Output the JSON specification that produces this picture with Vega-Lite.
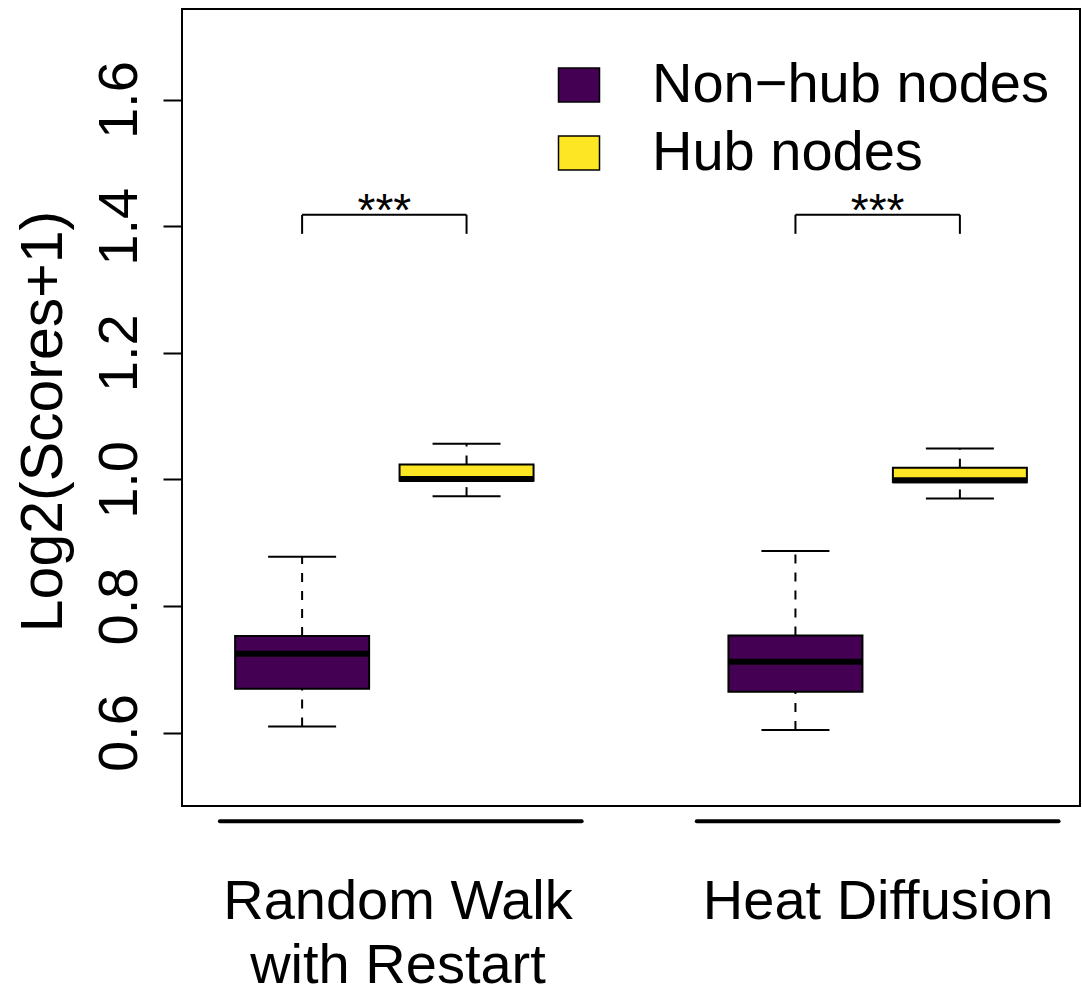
{
  "$schema": "https://vega.github.io/schema/vega-lite/v6.json",
  "width": 898,
  "height": 797,
  "autosize": {"type": "none"},
  "padding": {"left": 182, "top": 9, "right": 2, "bottom": 181},
  "background": "white",
  "config": {
    "font": "Liberation Sans",
    "view": {"stroke": "black", "strokeWidth": 2}
  },
  "datasets": {
    "boxes": [
      {"method": "Random Walk with Restart", "group": "Non−hub nodes", "pos": 1, "lo": 0.6095, "q1": 0.6695, "med": 0.7247, "q3": 0.7525, "hi": 0.878},
      {"method": "Random Walk with Restart", "group": "Hub nodes", "pos": 2, "lo": 0.9736, "q1": 0.998, "med": 1.0005, "q3": 1.0237, "hi": 1.0563},
      {"method": "Heat Diffusion", "group": "Non−hub nodes", "pos": 4, "lo": 0.6041, "q1": 0.6647, "med": 0.7121, "q3": 0.7536, "hi": 0.8868},
      {"method": "Heat Diffusion", "group": "Hub nodes", "pos": 5, "lo": 0.97, "q1": 0.9957, "med": 0.9989, "q3": 1.0184, "hi": 1.0489}
    ],
    "sig": [
      {"method": "Random Walk with Restart", "x1": 1, "x2": 2, "xm": 1.5, "top": 1.418, "bottom": 1.388, "label": "***"},
      {"method": "Heat Diffusion", "x1": 4, "x2": 5, "xm": 4.5, "top": 1.418, "bottom": 1.388, "label": "***"}
    ],
    "groups": [
      {"method": "Random Walk with Restart", "start": 0.5, "end": 2.7},
      {"method": "Heat Diffusion", "start": 3.4, "end": 5.6}
    ]
  },
  "layer": [
    {
      "data": {"name": "boxes"},
      "mark": {"type": "rule", "color": "black", "strokeWidth": 2, "strokeDash": [9, 9]},
      "encoding": {
        "x": {
          "field": "pos", "type": "quantitative",
          "scale": {"domain": [0.3, 5.7], "nice": false, "zero": false},
          "axis": {
            "values": [1.58, 4.5],
            "labelExpr": "datum.value < 3 ? ['Random Walk', '\u00a0with Restart'] : 'Heat Diffusion'",
            "domain": false, "ticks": false, "grid": false,
            "labelFontSize": 56, "labelLineHeight": 64, "labelPadding": 68,
            "labelColor": "black", "labelFont": "Liberation Sans",
            "labelBaseline": "top", "labelAlign": "center",
            "labelOverlap": false, "labelBound": false, "labelFlush": false,
            "labelLimit": 0,
            "title": null
          }
        },
        "y": {
          "field": "q3", "type": "quantitative",
          "scale": {"domain": [0.4841, 1.7432], "nice": false, "zero": false},
          "axis": {
            "values": [0.6, 0.8, 1.0, 1.2, 1.4, 1.6],
            "format": ".1f",
            "labelAngle": 270,
            "labelAlign": "center",
            "labelBaseline": "alphabetic",
            "labelFontSize": 56,
            "labelColor": "black",
            "labelFont": "Liberation Sans",
            "labelPadding": 27,
            "tickSize": 19,
            "tickWidth": 2,
            "tickColor": "black",
            "domain": false,
            "grid": false,
            "labelOverlap": false,
            "labelBound": false,
            "labelFlush": false,
            "title": "Log2(Scores+1)",
            "titleFontSize": 59,
            "titleFontWeight": "normal",
            "titleFont": "Liberation Sans",
            "titleColor": "black",
            "titleAngle": 270,
            "titleAlign": "center",
            "titleBaseline": "alphabetic",
            "titleX": -121,
            "titleY": 412
          }
        },
        "y2": {"field": "hi"}
      }
    },
    {
      "data": {"name": "boxes"},
      "mark": {"type": "rule", "color": "black", "strokeWidth": 2, "strokeDash": [9, 9]},
      "encoding": {
        "x": {"field": "pos", "type": "quantitative"},
        "y": {"field": "lo", "type": "quantitative"},
        "y2": {"field": "q1"}
      }
    },
    {
      "data": {"name": "boxes"},
      "mark": {"type": "tick", "orient": "horizontal", "color": "black", "size": 68, "thickness": 2, "opacity": 1},
      "encoding": {
        "x": {"field": "pos", "type": "quantitative"},
        "y": {"field": "hi", "type": "quantitative"}
      }
    },
    {
      "data": {"name": "boxes"},
      "mark": {"type": "tick", "orient": "horizontal", "color": "black", "size": 68, "thickness": 2, "opacity": 1},
      "encoding": {
        "x": {"field": "pos", "type": "quantitative"},
        "y": {"field": "lo", "type": "quantitative"}
      }
    },
    {
      "data": {"name": "boxes"},
      "mark": {"type": "bar", "width": 134, "stroke": "black", "strokeWidth": 2, "opacity": 1},
      "encoding": {
        "x": {"field": "pos", "type": "quantitative"},
        "y": {"field": "q1", "type": "quantitative"},
        "y2": {"field": "q3"},
        "fill": {
          "field": "group", "type": "nominal",
          "scale": {"domain": ["Non−hub nodes", "Hub nodes"], "range": ["#440154", "#FDE725"]},
          "legend": {
            "title": null,
            "orient": "none",
            "legendX": 369,
            "legendY": 48,
            "padding": 0,
            "symbolType": "M-1,-0.83H1V0.83H-1Z",
            "symbolSize": 1681,
            "symbolStrokeColor": "black",
            "symbolStrokeWidth": 1.5,
            "symbolOpacity": 1,
            "labelFontSize": 56,
            "labelFont": "Liberation Sans",
            "labelColor": "black",
            "labelOffset": 45,
            "labelLimit": 0,
            "rowPadding": 12
          }
        }
      }
    },
    {
      "data": {"name": "boxes"},
      "mark": {"type": "tick", "orient": "horizontal", "color": "black", "size": 134, "thickness": 6, "opacity": 1},
      "encoding": {
        "x": {"field": "pos", "type": "quantitative"},
        "y": {"field": "med", "type": "quantitative"}
      }
    },
    {
      "data": {"name": "sig"},
      "mark": {"type": "rule", "color": "black", "strokeWidth": 2},
      "encoding": {
        "x": {"field": "x1", "type": "quantitative"},
        "x2": {"field": "x2"},
        "y": {"field": "top", "type": "quantitative"}
      }
    },
    {
      "data": {"name": "sig"},
      "mark": {"type": "rule", "color": "black", "strokeWidth": 2},
      "encoding": {
        "x": {"field": "x1", "type": "quantitative"},
        "y": {"field": "top", "type": "quantitative"},
        "y2": {"field": "bottom"}
      }
    },
    {
      "data": {"name": "sig"},
      "mark": {"type": "rule", "color": "black", "strokeWidth": 2},
      "encoding": {
        "x": {"field": "x2", "type": "quantitative"},
        "y": {"field": "top", "type": "quantitative"},
        "y2": {"field": "bottom"}
      }
    },
    {
      "data": {"name": "sig"},
      "mark": {"type": "text", "color": "black", "fontSize": 46, "baseline": "alphabetic", "align": "center", "dy": 11, "font": "Liberation Sans"},
      "encoding": {
        "x": {"field": "xm", "type": "quantitative"},
        "y": {"field": "top", "type": "quantitative"},
        "text": {"field": "label"}
      }
    },
    {
      "data": {"name": "groups"},
      "mark": {"type": "rule", "color": "black", "strokeWidth": 4, "strokeCap": "round", "clip": false},
      "encoding": {
        "x": {"field": "start", "type": "quantitative"},
        "x2": {"field": "end"},
        "y": {"datum": 0.46, "type": "quantitative"}
      }
    }
  ]
}
